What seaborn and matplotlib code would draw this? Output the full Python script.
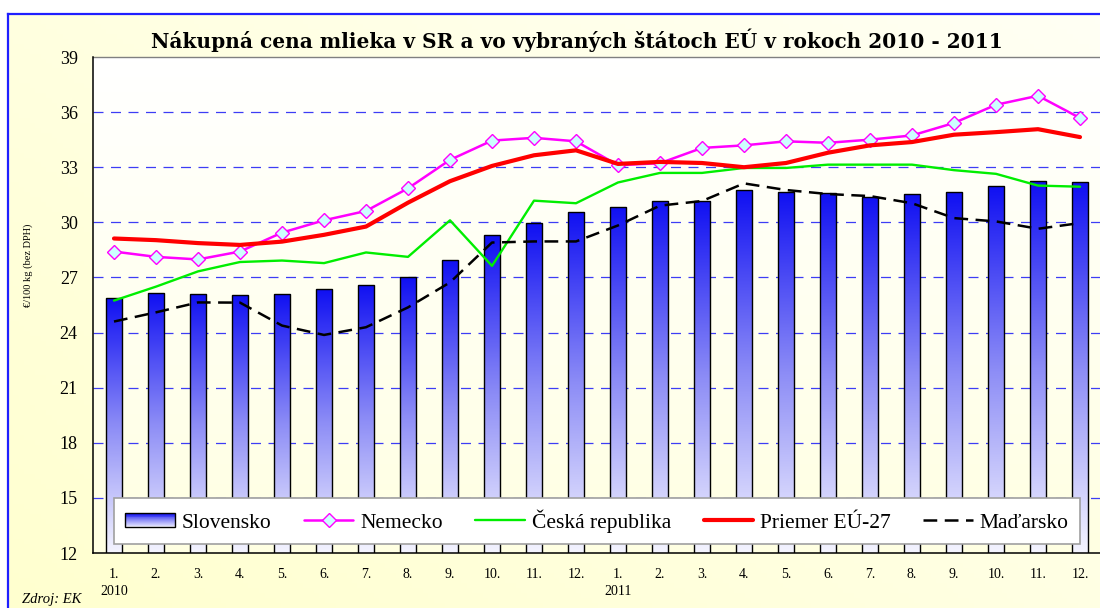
import numpy as np
import pandas as pd
import matplotlib
matplotlib.use("Agg")
import matplotlib.pyplot as plt
import seaborn as sns
from matplotlib.patches import Rectangle
from matplotlib.lines import Line2D
from matplotlib.legend_handler import HandlerBase
from matplotlib.colors import LinearSegmentedColormap

# ---------------- data ----------------
months = ["1.", "2.", "3.", "4.", "5.", "6.", "7.", "8.", "9.", "10.", "11.", "12."] * 2
years = ["2010", "2011"]

slovensko = [25.86, 26.15, 26.10, 26.06, 26.10, 26.37, 26.59, 27.00, 27.96, 29.30, 29.95, 30.57,
             30.86, 31.18, 31.18, 31.76, 31.67, 31.61, 31.40, 31.54, 31.65, 32.00, 32.26, 32.17]
nemecko = [28.41, 28.12, 27.98, 28.41, 29.44, 30.11, 30.62, 31.85, 33.40, 34.45, 34.60, 34.41,
           33.11, 33.22, 34.05, 34.19, 34.41, 34.33, 34.50, 34.73, 35.41, 36.40, 36.89, 35.68]
ceska = [25.74, 26.50, 27.33, 27.84, 27.92, 27.78, 28.36, 28.12, 30.11, 27.63, 31.18, 31.04,
         32.17, 32.69, 32.69, 32.96, 32.96, 33.14, 33.14, 33.14, 32.84, 32.64, 32.00, 31.94]
priemer = [29.12, 29.03, 28.87, 28.77, 28.95, 29.32, 29.77, 31.07, 32.24, 33.07, 33.65, 33.92,
           33.18, 33.29, 33.23, 33.00, 33.23, 33.79, 34.19, 34.37, 34.77, 34.91, 35.07, 34.64]
madarsko = [24.60, 25.10, 25.64, 25.63, 24.38, 23.87, 24.29, 25.37, 26.73, 28.90, 28.96, 28.96,
            29.83, 30.91, 31.16, 32.12, 31.76, 31.54, 31.43, 31.04, 30.23, 30.05, 29.65, 29.96]

series_names = ["Slovensko", "Nemecko", "Česká republika", "Priemer EÚ-27", "Maďarsko"]
title = "Nákupná cena mlieka v SR a vo vybraných štátoch EÚ v rokoch 2010 - 2011"
ylabel = "€/100 kg (bez DPH)"
source = "Zdroj: EK"

# ---------------- frame ----------------
W, H = 1100, 608
keys = [f"{years[i // 12]}-{i % 12 + 1:02d}" for i in range(len(months))]
df = pd.DataFrame({
    "key": keys,
    "pos": np.arange(len(months)),
    "Slovensko": slovensko,
    "Nemecko": nemecko,
    "Ceska": ceska,
    "Priemer": priemer,
    "Madarsko": madarsko,
})

sns.set_theme(style="white")
plt.rcParams['font.family'] = ['Liberation Serif', 'DejaVu Serif']
plt.rcParams['text.color'] = 'black'
plt.rcParams['xtick.color'] = 'black'
plt.rcParams['ytick.color'] = 'black'
plt.rcParams['xtick.labelcolor'] = 'black'
plt.rcParams['ytick.labelcolor'] = 'black'

fig = plt.figure(figsize=(W / 100, H / 100), dpi=100, facecolor="white")

# outer chart background (gradient) with blue border
outer = fig.add_axes([8 / W, 0, 1 - 8 / W, 1 - 14 / H], zorder=-3)
gx, gy = np.meshgrid(np.linspace(0, 1, 200), np.linspace(0, 1, 120))
gval = 0.55 * gx + 0.45 * (1 - gy)
outer_cmap = LinearSegmentedColormap.from_list("o", ["#FFFFCF", "#FFFFF4"])
outer.imshow(gval, cmap=outer_cmap, aspect="auto", extent=[0, 1, 0, 1], origin="upper")
outer.set_xlim(0, 1); outer.set_ylim(0, 1)
outer.set_xticks([]); outer.set_yticks([])
for s in ["right", "bottom"]:
    outer.spines[s].set_visible(False)
for s in ["left", "top"]:
    outer.spines[s].set_color("#1F1FFF")
    outer.spines[s].set_linewidth(1.6)

rect = [93 / W, 1 - 553 / H, (1101 - 93) / W, (553 - 57) / H]
# plot area background gradient
bg = fig.add_axes(rect, zorder=-1)
pv = np.linspace(0, 1, 100).reshape(-1, 1)
bg_cmap = LinearSegmentedColormap.from_list("b", ["#FFFFFF", "#FFFFE2"])
bg.imshow(pv, cmap=bg_cmap, aspect="auto", extent=[0, 1, 0, 1], origin="upper")
bg.axis("off")

ax = fig.add_axes(rect)
ax.set_facecolor("none")

# ---------------- bars ----------------
sns.barplot(data=df, x="key", y="Slovensko", width=0.4, color="#1A1AF0",
            edgecolor="black", linewidth=1.0, ax=ax, zorder=3)
bar_cmap = LinearSegmentedColormap.from_list("bar", ["#F4F4FF", "#8C8CF6", "#1010F2"])
grad = np.linspace(0, 1, 256).reshape(-1, 1)
for p in list(ax.patches):
    x0, y0 = p.get_x(), p.get_y()
    w, h = p.get_width(), p.get_height()
    im = ax.imshow(grad, cmap=bar_cmap, aspect="auto", origin="lower",
                   extent=[x0, x0 + w, 12, y0 + h], zorder=3.2)
    im.set_clip_path(p)
    p.set_facecolor("none")
    p.set_zorder(3.4)

# ---------------- lines ----------------
sns.lineplot(data=df, x="pos", y="Ceska", color="#00EE00", lw=1.7, ax=ax, zorder=5, sort=False)
sns.lineplot(data=df, x="pos", y="Nemecko", color="#FF00FF", lw=1.8, ax=ax, zorder=6, sort=False,
             marker="D", markersize=7, markerfacecolor="#CCFFFF", markeredgecolor="#FF00FF",
             markeredgewidth=1.0)
sns.lineplot(data=df, x="pos", y="Priemer", color="#FF0000", lw=3.0, ax=ax, zorder=7, sort=False)
sns.lineplot(data=df, x="pos", y="Madarsko", color="black", lw=1.8, ax=ax, zorder=8, sort=False,
             dashes=False)
ax.lines[-1].set_dashes((5.5, 3.0))

# ---------------- axes ----------------
n = len(months)
ax.set_xlim(-0.5, n - 0.5)
ax.set_ylim(12, 39)
yt = np.arange(12, 40, 3)
ax.set_yticks(yt)
ax.set_yticklabels([str(v) for v in yt], fontsize=13, color="black")
for v in yt[1:-1]:
    ax.axhline(v, color="#3D3DF5", lw=0.9, ls=(0, (8, 6)), zorder=1)

xl = [months[i] + ("\n" + years[i // 12] if i % 12 == 0 else "") for i in range(n)]
ax.set_xticks(np.arange(n))
ax.set_xticklabels(xl, fontsize=10, va="top", linespacing=1.35, color="black")
ax.set_xticks(np.arange(-0.5, n, 1.0), minor=True)
ax.tick_params(axis="x", which="major", length=0, pad=11)
ax.tick_params(axis="x", which="minor", length=5, width=1, color="black", direction="out")
ax.tick_params(axis="y", which="major", length=6, width=1, color="black", direction="out", pad=5)
ax.set_xlabel("")
ax.set_ylabel("")
for s in ["left", "bottom"]:
    ax.spines[s].set_color("black")
    ax.spines[s].set_linewidth(1.1)
ax.spines["top"].set_color("#808080")
ax.spines["top"].set_linewidth(1.0)
ax.spines["right"].set_visible(False)
ax.spines["left"].set_zorder(9)
ax.spines["bottom"].set_zorder(9)

# ---------------- legend ----------------
class GradHandler(HandlerBase):
    def create_artists(self, legend, orig_handle, xdescent, ydescent, width, height, fontsize, trans):
        x0, y0 = -xdescent, -ydescent
        k = 16
        arts = []
        for j in range(k):
            c = bar_cmap(j / (k - 1))
            arts.append(Rectangle((x0, y0 + j * height / k), width, height / k + 0.05,
                                  facecolor=c, edgecolor="none", transform=trans))
        arts.append(Rectangle((x0, y0), width, height, fill=False, edgecolor="black",
                              lw=1.0, transform=trans))
        return arts

h_bar = Rectangle((0, 0), 1, 1)
h_nem = Line2D([], [], color="#FF00FF", lw=1.8, marker="D", markersize=7,
               markerfacecolor="#CCFFFF", markeredgecolor="#FF00FF")
h_ces = Line2D([], [], color="#00EE00", lw=1.7)
h_pri = Line2D([], [], color="#FF0000", lw=3.0)
h_mad = Line2D([], [], color="black", lw=1.8, dashes=(5.5, 3.0))
leg = ax.legend([h_bar, h_nem, h_ces, h_pri, h_mad], series_names,
                handler_map={Rectangle: GradHandler()},
                ncol=5, loc="center", bbox_to_anchor=(597 / W, 1 - 521 / H),
                bbox_transform=fig.transFigure, frameon=True, fancybox=False,
                facecolor="white", edgecolor="#A0A0A0", framealpha=1,
                prop={"family": ["Liberation Serif", "DejaVu Serif"], "size": 15.5},
                handlelength=2.3, handleheight=0.65, columnspacing=1.5, handletextpad=0.33,
                borderpad=0.5, borderaxespad=0)
leg.set_zorder(20)
leg.get_frame().set_linewidth(1.2)
for t in leg.get_texts():
    t.set_color("black")

# ---------------- texts ----------------
fig.text(577 / W, 1 - 40 / H, title, ha="center", va="center", fontsize=14.5,
         fontweight="bold", family=["DejaVu Serif"], color="black")
fig.text(28 / W, 1 - 265 / H, ylabel, rotation=90, ha="center", va="center", fontsize=7.5,
         color="black")
fig.text(22 / W, 1 - 603 / H, source, ha="left", va="baseline", fontsize=10.5, style="italic",
         color="black")

fig.savefig("out.png", dpi=100, facecolor=fig.get_facecolor())
